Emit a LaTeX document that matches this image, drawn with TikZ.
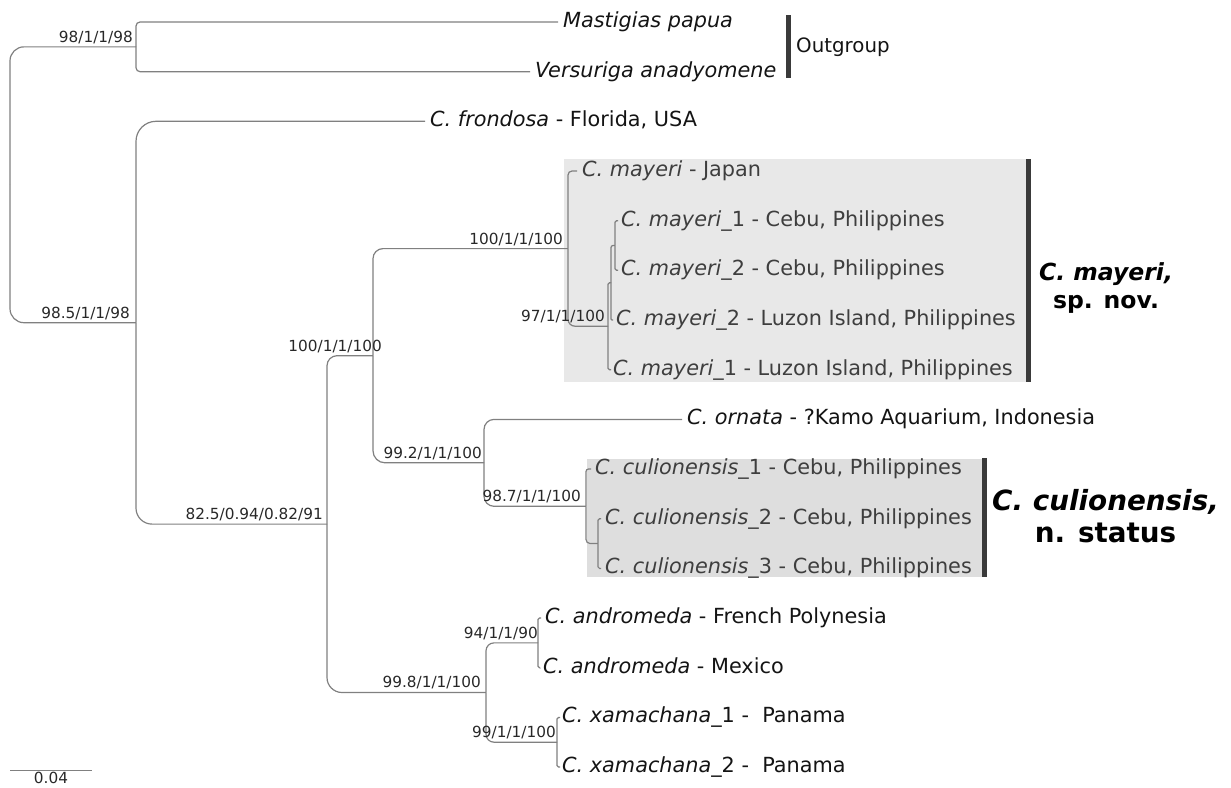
\documentclass[tikz,border=0pt]{standalone}
\usepackage{fontspec}
\setmainfont{DejaVu Sans}
\definecolor{branch}{RGB}{128,128,128}
\definecolor{txt}{RGB}{20,20,20}
\definecolor{boxtxt}{RGB}{62,62,62}
\definecolor{suptxt}{RGB}{40,40,40}
\definecolor{boxA}{RGB}{232,232,232}
\definecolor{boxB}{RGB}{222,222,222}
\definecolor{barc}{RGB}{58,58,58}
\begin{document}
\begin{tikzpicture}[x=1pt,y=-1pt,
  br/.style={draw=branch, line width=1.2pt},
  taxon/.style={anchor=base west, inner sep=0pt, text=txt, font=\fontsize{20.8}{24}\selectfont},
  intaxon/.style={taxon, text=boxtxt},
  supp/.style={anchor=base east, inner sep=0pt, text=suptxt, font=\fontsize{15.3}{18}\selectfont},
  cladelbl/.style={anchor=base, inner sep=0pt, text=black}
]
\useasboundingbox (0,0) rectangle (1231,787);

% clade boxes and bars
\fill[boxA] (564,159) rectangle (1026,382);
\fill[barc] (1026,159) rectangle (1031,382);
\fill[boxB] (587,459) rectangle (982,577);
\fill[barc] (982,458) rectangle (987,577);
\fill[barc] (786,15) rectangle (791,78);

% internal nodes
\coordinate (root) at (10,184.8);
\coordinate (O) at (136,46.85);
\coordinate (I) at (136,322.7);
\coordinate (A) at (327,524.1);
\coordinate (B) at (373,355.7);
\coordinate (M) at (568,248.6);
\coordinate (M2) at (608,326.2);
\coordinate (M3) at (611,282.75);
\coordinate (M4) at (615,245.5);
\coordinate (C) at (484,462.8);
\coordinate (K) at (586,506.3);
\coordinate (K2) at (598,543.5);
\coordinate (D) at (486,692.5);
\coordinate (An) at (538,642.85);
\coordinate (X) at (557,742.2);

% tips
\coordinate (t0) at (558,22);
\coordinate (t1) at (530,71.7);
\coordinate (t2) at (425,121.3);
\coordinate (t3) at (577,171);
\coordinate (t4) at (618,220.7);
\coordinate (t5) at (618,270.3);
\coordinate (t6) at (613,320);
\coordinate (t7) at (611,369.7);
\coordinate (t8) at (682,419.4);
\coordinate (t9) at (591,469);
\coordinate (t10) at (601,518.7);
\coordinate (t11) at (601,568.4);
\coordinate (t12) at (541,618);
\coordinate (t13) at (539,667.7);
\coordinate (t14) at (560,717.4);
\coordinate (t15) at (560,767);

% branches
\draw[br, rounded corners=14] (root) |- (O);
\draw[br, rounded corners=14] (root) |- (I);
\draw[br, rounded corners=4] (O) |- (t0);
\draw[br, rounded corners=4] (O) |- (t1);
\draw[br, rounded corners=20] (I) |- (t2);
\draw[br, rounded corners=16] (I) |- (A);
\draw[br, rounded corners=10] (A) |- (B);
\draw[br, rounded corners=15] (A) |- (D);
\draw[br, rounded corners=10] (B) |- (M);
\draw[br, rounded corners=12] (B) |- (C);
\draw[br, rounded corners=4] (M) |- (t3);
\draw[br, rounded corners=7] (M) |- (M2);
\draw[br, rounded corners=1.5] (M2) |- (M3);
\draw[br, rounded corners=1.5] (M2) |- (t7);
\draw[br, rounded corners=2] (M3) |- (M4);
\draw[br, rounded corners=1] (M3) |- (t6);
\draw[br, rounded corners=1.5] (M4) |- (t4);
\draw[br, rounded corners=1.5] (M4) |- (t5);
\draw[br, rounded corners=10] (C) |- (t8);
\draw[br, rounded corners=10] (C) |- (K);
\draw[br, rounded corners=2.5] (K) |- (t9);
\draw[br, rounded corners=4] (K) |- (K2);
\draw[br, rounded corners=1.5] (K2) |- (t10);
\draw[br, rounded corners=1.5] (K2) |- (t11);
\draw[br, rounded corners=8] (D) |- (An);
\draw[br, rounded corners=8] (D) |- (X);
\draw[br, rounded corners=1.5] (An) |- (t12);
\draw[br, rounded corners=1.5] (An) |- (t13);
\draw[br, rounded corners=1.5] (X) |- (t14);
\draw[br, rounded corners=1.5] (X) |- (t15);

% taxon labels
\node[taxon] (n0) at (563,27.5) {\textit{Mastigias papua}};
\node[taxon] (n1) at (535,77.2) {\textit{Versuriga anadyomene}};
\node[taxon] (n2) at (430,126.8) {\textit{C. frondosa} - Florida, USA};
\node[intaxon] (n3) at (582,176.5) {\textit{C. mayeri} - Japan};
\node[intaxon] (n4) at (621,226.2) {\textit{C. mayeri}\_1 - Cebu, Philippines};
\node[intaxon] (n5) at (621,275.8) {\textit{C. mayeri}\_2 - Cebu, Philippines};
\node[intaxon] (n6) at (616,325.5) {\textit{C. mayeri}\_2 - Luzon Island, Philippines};
\node[intaxon] (n7) at (613,375.2) {\textit{C. mayeri}\_1 - Luzon Island, Philippines};
\node[taxon] (n8) at (687,424.9) {\textit{C. ornata} - ?Kamo Aquarium, Indonesia};
\node[intaxon] (n9) at (595,474.5) {\textit{C. culionensis}\_1 - Cebu, Philippines};
\node[intaxon] (n10) at (605,524.2) {\textit{C. culionensis}\_2 - Cebu, Philippines};
\node[intaxon] (n11) at (605,573.9) {\textit{C. culionensis}\_3 - Cebu, Philippines};
\node[taxon] (n12) at (545,623.5) {\textit{C. andromeda} - French Polynesia};
\node[taxon] (n13) at (543,673.2) {\textit{C. andromeda} - Mexico};
\node[taxon] (n14) at (562,722.9) {\textit{C. xamachana}\_1 -\ \ Panama};
\node[taxon] (n15) at (562,772.5) {\textit{C. xamachana}\_2 -\ \ Panama};

% support values
\node[supp] (s1) at (133,42) {98/1/1/98};
\node[supp] (s2) at (130,318) {98.5/1/1/98};
\node[supp] (s3) at (323,519) {82.5/0.94/0.82/91};
\node[supp] (s4) at (382,351) {100/1/1/100};
\node[supp] (s5) at (563,244) {100/1/1/100};
\node[supp] (s6) at (605,321.5) {97/1/1/100};
\node[supp] (s7) at (482,458) {99.2/1/1/100};
\node[supp] (s8) at (581,501.5) {98.7/1/1/100};
\node[supp] (s9) at (481,687.5) {99.8/1/1/100};
\node[supp] (s10) at (538,638) {94/1/1/90};
\node[supp] (s11) at (556,737) {99/1/1/100};

% clade labels
\node[anchor=base west, inner sep=0pt, text=txt, font=\fontsize{19.8}{24}\selectfont] (og) at (796,52.5) {Outgroup};
\node[cladelbl, font=\fontsize{23.5}{28}\selectfont\bfseries\itshape] (my1) at (1106,280) {C. mayeri,};
\node[cladelbl, font=\fontsize{23.5}{28}\selectfont\bfseries] (my2) at (1106,308) {sp. nov.};
\node[cladelbl, font=\fontsize{27.8}{32}\selectfont\bfseries\itshape] (cu1) at (1105.5,510) {C. culionensis,};
\node[cladelbl, font=\fontsize{27.8}{32}\selectfont\bfseries] (cu2) at (1105.5,542) {n. status};

% scale bar
\coordinate (sb1) at (10,770);
\coordinate (sb2) at (92,770);
\draw[br, line width=1pt] (sb1) -- (sb2);
\node[anchor=base, inner sep=0pt, text=suptxt, font=\fontsize{15.3}{18}\selectfont] (sbl) at (51,783.5) {0.04};
\end{tikzpicture}
\end{document}
